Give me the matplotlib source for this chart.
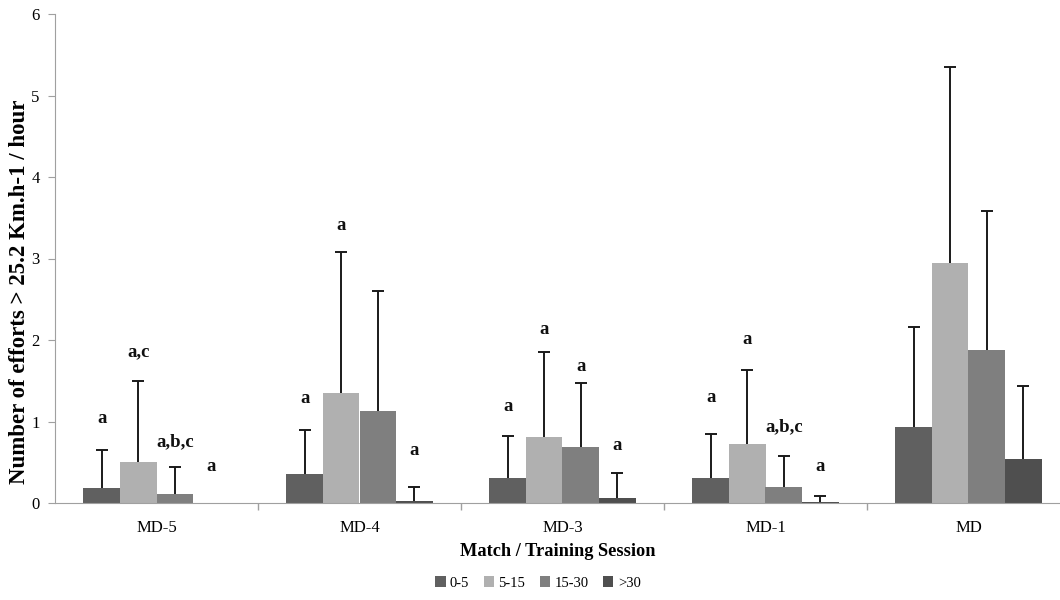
import numpy as np
import matplotlib.pyplot as plt

# data
sessions = ['MD-5', 'MD-4', 'MD-3', 'MD-1', 'MD']
speed_bins = ['0-5', '5-15', '15-30', '>30']

means_0_5 = [0.18, 0.35, 0.31, 0.31, 0.93]
means_5_15 = [0.50, 1.35, 0.81, 0.72, 2.94]
means_15_30 = [0.11, 1.13, 0.69, 0.20, 1.88]
means_30 = [0.00, 0.03, 0.06, 0.01, 0.54]

# top of the (upper-only) error bars
tops_0_5 = [0.65, 0.89, 0.82, 0.85, 2.16]
tops_5_15 = [1.50, 3.08, 1.85, 1.63, 5.35]
tops_15_30 = [0.44, 2.60, 1.47, 0.58, 3.58]
tops_30 = [None, 0.20, 0.37, 0.09, 1.44]

# significance letters and their heights
sig_0_5 = ['a', 'a', 'a', 'a', '']
sig_5_15 = ['a,c', 'a', 'a', 'a', '']
sig_15_30 = ['a,b,c', '', 'a', 'a,b,c', '']
sig_30 = ['a', 'a', 'a', 'a', '']
sig_y_0_5 = [1.04, 1.28, 1.18, 1.29, 0]
sig_y_5_15 = [1.85, 3.40, 2.13, 2.00, 0]
sig_y_15_30 = [0.75, 0, 1.68, 0.93, 0]
sig_y_30 = [0.45, 0.65, 0.71, 0.45, 0]

colors = ['#606060', '#b0b0b0', '#7f7f7f', '#4f4f4f']

plt.rcParams['font.family'] = ['Liberation Serif', 'DejaVu Serif']

fig = plt.figure(figsize=(10.6, 6), dpi=100)
# axis runs a bit past the right edge, like the cropped original
ax = fig.add_axes([55 / 1060, 97 / 600, 1015 / 1060, 489 / 600])

x = np.arange(len(sessions))
w = 0.18
all_means = [means_0_5, means_5_15, means_15_30, means_30]
all_tops = [tops_0_5, tops_5_15, tops_15_30, tops_30]
all_sig = [sig_0_5, sig_5_15, sig_15_30, sig_30]
all_sig_y = [sig_y_0_5, sig_y_5_15, sig_y_15_30, sig_y_30]

for i in range(4):
    pos = x + (i - 1.5) * w
    ax.bar(pos, all_means[i], width=w, color=colors[i], label=speed_bins[i], zorder=2)
    for j in range(len(sessions)):
        top = all_tops[i][j]
        if top is not None:
            # upper whisker only, cap at the top
            ax.vlines(pos[j], all_means[i][j], top, color='#1a1a1a', lw=1.4, zorder=3)
            ax.plot(pos[j], top, marker='_', markersize=9, mew=1.4, color='#1a1a1a', zorder=3)
        if all_sig[i][j]:
            ax.text(pos[j], all_sig_y[i][j], all_sig[i][j], ha='center', va='center',
                    fontsize=13.5, fontweight='bold', color='#111111')

ax.set_xlim(-0.5, len(sessions) - 0.5)
ax.set_ylim(0, 6)
ax.set_yticks(range(7))
ax.set_xticks(x)
ax.set_xticklabels(sessions, fontsize=12)
ax.set_xticks(np.arange(0.5, len(sessions) - 0.5), minor=True)
ax.tick_params(axis='x', which='major', length=0, pad=12)
ax.tick_params(axis='x', which='minor', length=5, color='#a0a0a0', width=1)
ax.tick_params(axis='y', length=5, color='#a0a0a0', labelsize=12, pad=6)

for side in ['top', 'right']:
    ax.spines[side].set_visible(False)
ax.spines['left'].set_color('#a0a0a0')
ax.spines['bottom'].set_color('#a0a0a0')

fig.text(20 / 1060, 1 - 292 / 600, 'Number of efforts > 25.2 Km.h-1 / hour', rotation=90,
         ha='center', va='center', fontsize=16.5, fontweight='bold')
fig.text(558 / 1060, 1 - 552 / 600, 'Match / Training Session', ha='center', va='center',
         fontsize=13.2, fontweight='bold')

fig.legend(loc='center', bbox_to_anchor=(538 / 1060, 17 / 600), ncol=4, frameon=False,
           fontsize=10.5, handlelength=0.7, handleheight=0.7, handletextpad=0.3,
           columnspacing=1.0)

fig.savefig('out.png', dpi=100)
